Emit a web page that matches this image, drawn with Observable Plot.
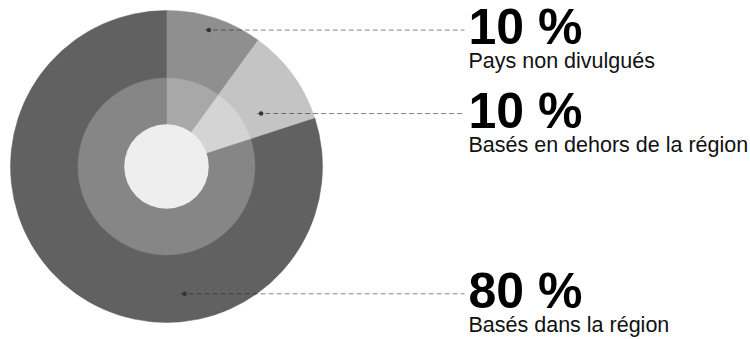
<!DOCTYPE html>
<html>
<head>
<meta charset="utf-8">
<script src="https://cdn.jsdelivr.net/npm/d3@7"></script>
<script src="https://cdn.jsdelivr.net/npm/@observablehq/plot@0.6"></script>
<style>
  html, body { margin: 0; padding: 0; background: #fff; }
</style>
</head>
<body>
<div id="chart"></div>
<script>
// ---- data ----
const categories = ["Pays non divulgués", "Basés en dehors de la région", "Basés dans la région"];
const shares = [10, 10, 80];
const valueLabels = ["10 %", "10 %", "80 %"];
const outerColors = ["#8f8f8f", "#c4c4c4", "#616161"];
const innerColors = ["#a8a8a8", "#d4d4d4", "#868686"];
const centerColor = "#eeeeee";
// where each leader line starts on the pie: angle (deg, clockwise from 12 o'clock) and radius fraction
const anchorAngles = [17, 60.4, 172.1];
const anchorRadii = [0.918, 0.694, 0.8205];

// ---- layout ----
const W = 750, H = 339;
const R_PX = 156;            // outer radius in px
const CX = 166.5, CY = 166.5; // pie centre in px
const ringMid = 0.567, ringInner = 0.271;
const labelX = (468 - CX) / R_PX;  // label column, in pie units

const rows = categories.map((c, i) => {
  const a = anchorAngles[i] * Math.PI / 180;
  return {
    category: c,
    share: shares[i],
    value: valueLabels[i],
    outer: outerColors[i],
    inner: innerColors[i],
    ax: anchorRadii[i] * Math.sin(a),
    ay: anchorRadii[i] * Math.cos(a),
    lx: labelX
  };
});

const arcs = d3.pie().sort(null).value(d => d.share)(rows);

function rings(index, scales) {
  const cx = scales.x(0), cy = scales.y(0);
  const k = scales.x(1) - cx;
  const g = d3.create("svg:g").attr("transform", `translate(${cx},${cy})`);
  const outer = d3.arc().innerRadius(0).outerRadius(k);
  const inner = d3.arc().innerRadius(0).outerRadius(k * ringMid);
  g.selectAll("path.o").data(arcs).join("path")
    .attr("d", outer).attr("fill", d => d.data.outer)
    .attr("stroke", d => d.data.outer).attr("stroke-width", 0.5);
  g.selectAll("path.i").data(arcs).join("path")
    .attr("d", inner).attr("fill", d => d.data.inner)
    .attr("stroke", d => d.data.inner).attr("stroke-width", 0.5);
  g.append("circle").attr("r", k * ringInner).attr("fill", centerColor);
  return g.node();
}

const chart = Plot.plot({
  width: W,
  height: H,
  margin: 0,
  x: {domain: [-CX / R_PX, (W - CX) / R_PX], axis: null},
  y: {domain: [-(H - CY) / R_PX, CY / R_PX], axis: null},
  style: {fontFamily: "'Liberation Sans', Arial, Helvetica, sans-serif", background: "#fff", color: "#000"},
  marks: [
    rings,
    Plot.link(rows, {
      x1: "ax", y1: "ay", x2: "lx", y2: "ay",
      dx: -4,
      stroke: "#222", strokeOpacity: 0.55, strokeWidth: 1, strokeDasharray: "5,3"
    }),
    Plot.dot(rows, {x: "ax", y: "ay", r: 2.2, fill: "#333", stroke: "none"}),
    Plot.text(rows, {
      x: "lx", y: "ay", text: "value",
      textAnchor: "start", lineAnchor: "bottom", dy: 14,
      fontSize: 50, fontWeight: "bold", fill: "#000",
      style: "word-spacing: 4px"
    }),
    Plot.text(rows, {
      x: "lx", y: "ay", text: "category",
      textAnchor: "start", lineAnchor: "bottom", dy: 38,
      fontSize: 21.5, fill: "#111"
    })
  ]
});

document.getElementById("chart").appendChild(chart);
</script>
</body>
</html>
